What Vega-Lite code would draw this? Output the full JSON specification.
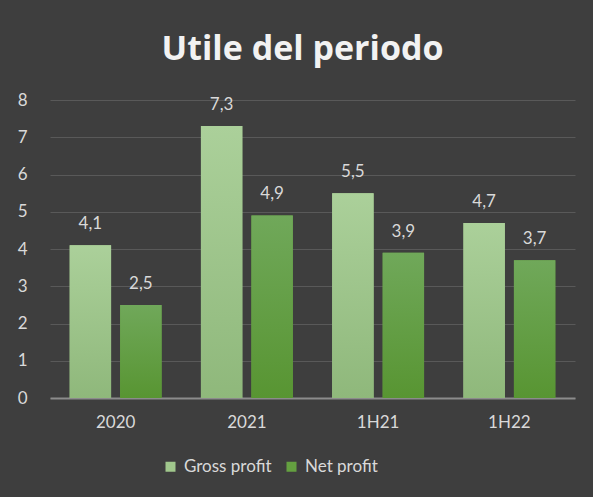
{
  "$schema": "https://vega.github.io/schema/vega-lite/v6.json",
  "width": 525,
  "height": 298,
  "autosize": {"type": "none"},
  "padding": {"left": 50, "top": 100, "right": 18, "bottom": 99},
  "background": "#3e3e3e",
  "config": {
    "locale": {"number": {"decimal": ",", "thousands": ".", "grouping": [3], "currency": ["€", ""]}},
    "view": {"stroke": null},
    "font": "Lato"
  },
  "title": {
    "text": "Utile del periodo",
    "font": "Open Sans",
    "fontSize": 34,
    "fontWeight": "bold",
    "color": "#f2f2f2",
    "offset": 24,
    "dx": -10,
    "anchor": "middle"
  },
  "data": {
    "values": [
      {"period": "2020", "series": "Gross profit", "value": 4.1},
      {"period": "2020", "series": "Net profit", "value": 2.5},
      {"period": "2021", "series": "Gross profit", "value": 7.3},
      {"period": "2021", "series": "Net profit", "value": 4.9},
      {"period": "1H21", "series": "Gross profit", "value": 5.5},
      {"period": "1H21", "series": "Net profit", "value": 3.9},
      {"period": "1H22", "series": "Gross profit", "value": 4.7},
      {"period": "1H22", "series": "Net profit", "value": 3.7}
    ]
  },
  "encoding": {
    "x": {
      "field": "period",
      "type": "nominal",
      "sort": ["2020", "2021", "1H21", "1H22"],
      "scale": {"paddingInner": 0.3, "paddingOuter": 0.15},
      "axis": {
        "title": null,
        "labelAngle": 0,
        "labelFontSize": 17,
        "labelColor": "#d9d9d9",
        "labelPadding": 16,
        "ticks": false,
        "domainColor": "#8c8c8c",
        "domainWidth": 2,
        "grid": false
      }
    },
    "xOffset": {
      "field": "series",
      "sort": ["Gross profit", "Net profit"],
      "scale": {"paddingInner": 0.18}
    },
    "y": {
      "field": "value",
      "type": "quantitative",
      "scale": {"domain": [0, 8]},
      "axis": {
        "title": null,
        "tickCount": 8,
        "labelFontSize": 17,
        "labelColor": "#d9d9d9",
        "labelPadding": 23,
        "ticks": false,
        "domain": false,
        "gridColor": "#595959",
        "gridWidth": 1,
        "format": "d"
      }
    }
  },
  "layer": [
    {
      "mark": {"type": "bar"},
      "encoding": {
        "color": {
          "field": "series",
          "type": "nominal",
          "sort": ["Gross profit", "Net profit"],
          "scale": {"domain": ["Gross profit", "Net profit"], "range": ["#a0c78c", "#64a040"]},
          "legend": {
            "title": null,
            "orient": "none",
            "legendX": 112,
            "legendY": 358,
            "direction": "horizontal",
            "symbolType": "square",
            "symbolSize": 100,
            "symbolStrokeWidth": 0,
            "labelFontSize": 17,
            "labelColor": "#d9d9d9",
            "columnPadding": 11,
            "labelOffset": 5
          }
        }
      }
    },
    {
      "transform": [{"filter": "datum.series === 'Gross profit'"}],
      "mark": {
        "type": "bar",
        "color": {
          "gradient": "linear",
          "x1": 0, "y1": 0, "x2": 0, "y2": 1,
          "stops": [{"offset": 0, "color": "#abd09a"}, {"offset": 1, "color": "#8fb87b"}]
        }
      }
    },
    {
      "transform": [{"filter": "datum.series === 'Net profit'"}],
      "mark": {
        "type": "bar",
        "color": {
          "gradient": "linear",
          "x1": 0, "y1": 0, "x2": 0, "y2": 1,
          "stops": [{"offset": 0, "color": "#70a85a"}, {"offset": 1, "color": "#589532"}]
        }
      }
    },
    {
      "mark": {"type": "text", "dy": -21, "fontSize": 17, "color": "#d9d9d9"},
      "encoding": {
        "text": {"field": "value", "type": "quantitative", "format": ".1f"}
      }
    }
  ]
}
